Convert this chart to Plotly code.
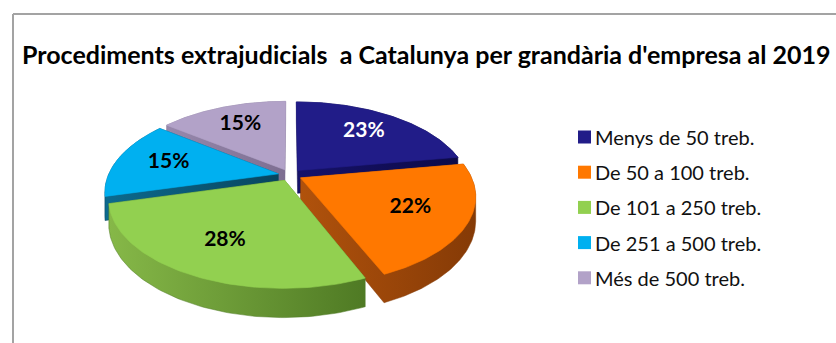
import numpy as np
import plotly.graph_objects as go

# Data
categories = [
    "Menys de 50 treb.",
    "De 50 a 100 treb.",
    "De 101 a 250 treb.",
    "De 251 a 500 treb.",
    "Més de 500 treb.",
]
percent = [23, 22, 28, 15, 15]

# Styles
top_colors = ["#211C88", "#FF7800", "#92D050", "#00B0F0", "#B2A2C8"]
side_light = ["#16126A", "#B0520C", "#86B848", "#0C6A8E", "#9788AC"]
side_dark = ["#0D0A48", "#853A06", "#4F7A24", "#08455F", "#7D6E91"]
label_colors = ["white", "black", "black", "black", "black"]
title_text = "Procediments extrajudicials\u00a0 a Catalunya per grandària d'empresa al 2019"

W, H = 836, 343
FONT = "Lato"

# 3D pie geometry (screen pixels)
CX, CY = 290, 175
RX, RY = 170, 84
DEPTH = 23
PERSP = 5.0
EXPLODE = 0.07
LABEL_R = 0.68


def project(X, Z, h=0.0):
    s = PERSP / (PERSP - Z)
    return CX + RX * X * s, CY + (RY * Z + h) * s


def convex_hull(pts):
    pts = sorted(set(pts))
    if len(pts) < 3:
        return pts

    def cross(o, a, b):
        return (a[0] - o[0]) * (b[1] - o[1]) - (a[1] - o[1]) * (b[0] - o[0])

    lower, upper = [], []
    for p in pts:
        while len(lower) >= 2 and cross(lower[-2], lower[-1], p) <= 0:
            lower.pop()
        lower.append(p)
    for p in reversed(pts):
        while len(upper) >= 2 and cross(upper[-2], upper[-1], p) <= 0:
            upper.pop()
        upper.append(p)
    return lower[:-1] + upper[:-1]


total = float(sum(percent))
bounds = np.concatenate([[0.0], np.cumsum(percent) / total * 2 * np.pi])

slices = []
for i, v in enumerate(percent):
    a0, a1 = bounds[i], bounds[i + 1]
    mid = 0.5 * (a0 + a1)
    ox, oz = EXPLODE * np.sin(mid), -EXPLODE * np.cos(mid)
    th = np.linspace(a0, a1, 80)
    ring = [(0.0, 0.0)] + [(np.sin(t), -np.cos(t)) for t in th]
    pts3 = [(x + ox, z + oz) for x, z in ring]
    top = [project(x, z, 0.0) for x, z in pts3]
    bottom = [project(x, z, DEPTH) for x, z in pts3]
    side = convex_hull([(round(a, 3), round(b, 3)) for a, b in top + bottom])
    lx, ly = project(LABEL_R * np.sin(mid) + ox, -LABEL_R * np.cos(mid) + oz)
    slices.append(dict(i=i, depth=oz, top=top, side=side, label=(lx, ly)))

fig = go.Figure()

# paint from back to front: extruded body first, then the top face
for sl in sorted(slices, key=lambda d: d["depth"]):
    i = sl["i"]
    sx, sy = zip(*(sl["side"] + [sl["side"][0]]))
    fig.add_trace(go.Scatter(
        x=sx, y=sy, mode="lines", fill="toself",
        fillgradient=dict(type="horizontal",
                          colorscale=[[0, side_light[i]], [1, side_dark[i]]]),
        line=dict(color=side_dark[i], width=0.5),
        hoverinfo="skip", showlegend=False,
    ))
    tx, ty = zip(*(sl["top"] + [sl["top"][0]]))
    fig.add_trace(go.Scatter(
        x=tx, y=ty, mode="lines", fill="toself",
        fillcolor=top_colors[i], line=dict(color=top_colors[i], width=0.6),
        hoverinfo="skip", showlegend=False, name=categories[i],
    ))

# percentage labels
for sl in slices:
    i = sl["i"]
    fig.add_trace(go.Scatter(
        x=[sl["label"][0]], y=[sl["label"][1]], mode="text",
        text=[f"{percent[i]}%"],
        textfont=dict(family=FONT, size=21, color=label_colors[i], weight="bold"),
        hoverinfo="skip", showlegend=False,
    ))

# legend
LEG_X, LEG_Y0, LEG_DY, SW = 578, 137, 35.2, 13
shapes = []
annotations = []
for i, name in enumerate(categories):
    yc = LEG_Y0 + i * LEG_DY
    shapes.append(dict(type="rect", xref="x", yref="y",
                       x0=LEG_X, x1=LEG_X + SW, y0=yc - SW / 2, y1=yc + SW / 2,
                       fillcolor=top_colors[i], line=dict(width=0)))
    annotations.append(dict(x=LEG_X + SW + 2, y=yc, xref="x", yref="y",
                            text=name, showarrow=False, xanchor="left", yanchor="middle",
                            font=dict(family=FONT, size=20, color="#111111")))

# chart border (top and left edges)
shapes.append(dict(type="line", xref="paper", yref="paper", x0=13 / W, x1=1.0,
                   y0=1 - 14 / H, y1=1 - 14 / H, line=dict(color="#A3A3A3", width=2)))
shapes.append(dict(type="line", xref="paper", yref="paper", x0=13 / W, x1=13 / W,
                   y0=0.0, y1=1 - 14 / H, line=dict(color="#A3A3A3", width=2)))

annotations.append(dict(x=20 / W, y=1 - 54 / H, xref="paper", yref="paper",
                        text=title_text, showarrow=False, xanchor="left", yanchor="middle",
                        font=dict(family=FONT, size=25, color="black", weight="bold")))

fig.update_layout(
    width=W, height=H,
    margin=dict(l=0, r=0, t=0, b=0),
    paper_bgcolor="white", plot_bgcolor="white",
    xaxis=dict(range=[0, W], visible=False, fixedrange=True),
    yaxis=dict(range=[H, 0], visible=False, fixedrange=True),
    shapes=shapes, annotations=annotations,
    showlegend=False,
)

fig.write_html("out.html", config={"displayModeBar": False})
